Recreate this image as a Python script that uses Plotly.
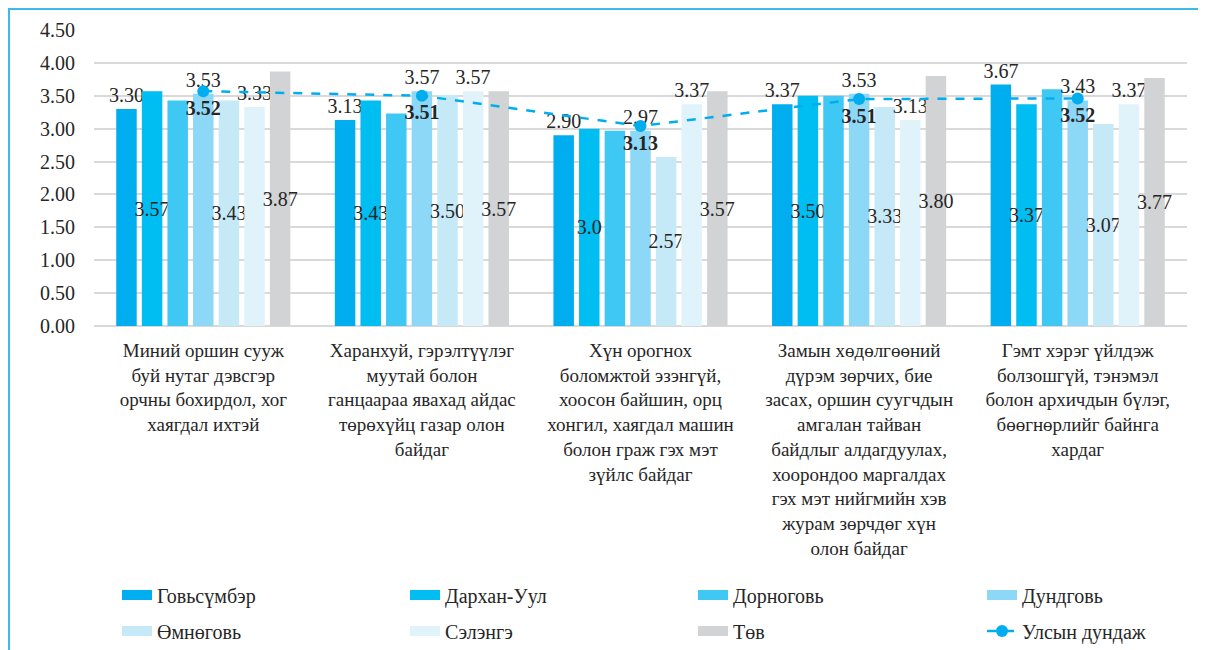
import plotly.graph_objects as go

# ---------------- data ----------------
category_lines = [
    ["Миний оршин сууж", "буй нутаг дэвсгэр", "орчны бохирдол, хог", "хаягдал ихтэй"],
    ["Харанхуй, гэрэлтүүлэг", "муутай болон", "ганцаараа явахад айдас", "төрөхүйц газар олон", "байдаг"],
    ["Хүн орогнох", "боломжтой эзэнгүй,", "хоосон байшин, орц", "хонгил, хаягдал машин", "болон граж гэх мэт", "зүйлс байдаг"],
    ["Замын хөдөлгөөний", "дүрэм зөрчих, бие", "засах, оршин суугчдын", "амгалан тайван", "байдлыг алдагдуулах,",
     "хоорондоо маргалдах", "гэх мэт нийгмийн хэв", "журам зөрчдөг хүн", "олон байдаг"],
    ["Гэмт хэрэг үйлдэж", "болзошгүй, тэнэмэл", "болон архичдын бүлэг,", "бөөгнөрлийг байнга", "хардаг"],
]
categories = ["<br>".join(lines) for lines in category_lines]

series_names = ["Говьсүмбэр", "Дархан-Уул", "Дорноговь", "Дундговь", "Өмнөговь", "Сэлэнгэ", "Төв"]

govisumber = [3.30, 3.13, 2.90, 3.37, 3.67]
darkhan_uul = [3.57, 3.43, 3.00, 3.50, 3.37]
dornogovi = [3.43, 3.23, 2.97, 3.50, 3.60]
dundgovi = [3.53, 3.57, 2.97, 3.53, 3.43]
umnugovi = [3.43, 3.51, 2.57, 3.33, 3.07]
selenge = [3.33, 3.57, 3.37, 3.13, 3.37]
tuv = [3.87, 3.57, 3.57, 3.80, 3.77]

# data labels as printed in the chart (None = no label)
govisumber_lbl = ["3.30", "3.13", "2.90", "3.37", "3.67"]
darkhan_uul_lbl = ["3.57", "3.43", "3.0", "3.50", "3.37"]
dornogovi_lbl = None
dundgovi_lbl = ["3.53", "3.57", "2.97", "3.53", "3.43"]
umnugovi_lbl = ["3.43", "3.50", "2.57", "3.33", "3.07"]
selenge_lbl = ["3.33", "3.57", "3.37", "3.13", "3.37"]
tuv_lbl = ["3.87", "3.57", "3.57", "3.80", "3.77"]

national_avg = [3.57, 3.50, 3.04, 3.45, 3.46]
national_avg_lbl = ["3.52", "3.51", "3.13", "3.51", "3.52"]
national_name = "Улсын дундаж"

y_ticks = [0, 0.5, 1.0, 1.5, 2.0, 2.5, 3.0, 3.5, 4.0, 4.5]
y_tick_labels = ["0.00", "0.50", "1.00", "1.50", "2.00", "2.50", "3.00", "3.50", "4.00", "4.50"]

# ---------------- style ----------------
colors = ["#00AEEF", "#00BDF2", "#40C8F4", "#8DD7F7", "#C6E9F8", "#E0F3FB", "#D1D3D4"]
label_modes = ["outside", "inside", None, "outside", "inside", "outside", "inside"]
FONT = "Liberation Serif"
TXT = "#262626"

values = [govisumber, darkhan_uul, dornogovi, dundgovi, umnugovi, selenge, tuv]
labels = [govisumber_lbl, darkhan_uul_lbl, dornogovi_lbl, dundgovi_lbl, umnugovi_lbl, selenge_lbl, tuv_lbl]

# page has an 8px body margin, so the figure is 8px smaller and offset
OFF = 8
W, H = 1206 - OFF, 650 - OFF
L, R, T, B = 94 - OFF, 1206 - 1187, 30 - OFF, 650 - 326
pw, ph = W - L - R, H - T - B


def page_x(px):
    return (px - OFF - L) / pw


def page_y(py):
    return (H - B - (py - OFF)) / ph


legend_text_x = [157, 445, 733, 1022]
legend_row_y = [595, 631]


def legend_key(k):
    return "legend" if k == 0 else f"legend{k + 1}"


fig = go.Figure()
for i, (name, vals, lbl, col, mode) in enumerate(zip(series_names, values, labels, colors, label_modes)):
    kw = {}
    if lbl is not None:
        kw = dict(text=lbl, textposition=mode, textangle=0, constraintext="none",
                  textfont=dict(family=FONT, size=20, color=TXT),
                  insidetextanchor="middle", cliponaxis=False)
    fig.add_trace(go.Bar(
        x=categories, y=vals, name=name, marker=dict(color=col, line=dict(width=0)),
        legendgroup=name, showlegend=False, hoverinfo="y+name", **kw))
    # legend-only entry drawn as a wide colour key
    fig.add_trace(go.Scatter(
        x=[None], y=[None], mode="lines", name=name, legendgroup=name,
        line=dict(color=col, width=10), legend=legend_key(i), hoverinfo="skip"))

fig.add_trace(go.Scatter(
    x=categories, y=national_avg, name=national_name, mode="lines+markers+text",
    line=dict(color="#00AEEF", width=2.5, dash="dash"),
    marker=dict(color="#00AEEF", size=12),
    text=national_avg_lbl, textposition="bottom center",
    textfont=dict(family=FONT, size=20, color=TXT, weight="bold"),
    legend=legend_key(7), cliponaxis=False))

layout_legends = {}
for k in range(8):
    row, col = divmod(k, 4)
    layout_legends[legend_key(k)] = dict(
        x=page_x(legend_text_x[col] - 40), y=page_y(legend_row_y[row]),
        xanchor="left", yanchor="middle", orientation="h",
        font=dict(family=FONT, size=20, color=TXT), bgcolor="rgba(0,0,0,0)",
        borderwidth=0, itemclick=False, itemdoubleclick=False)

fig.update_layout(
    width=W, height=H,
    margin=dict(l=L, r=R, t=T, b=B, autoexpand=False),
    paper_bgcolor="white", plot_bgcolor="white",
    barmode="group", bargap=0.18, bargroupgap=0.2,
    font=dict(family=FONT, color=TXT),
    showlegend=True,
    xaxis=dict(tickfont=dict(family=FONT, size=19, color=TXT), showgrid=False,
               showline=False, ticks="", ticklabelstandoff=11, fixedrange=True),
    yaxis=dict(range=[0, 4.5], tickvals=y_ticks, ticktext=y_tick_labels,
               tickfont=dict(family=FONT, size=20, color=TXT),
               showgrid=True, gridcolor="#D9D9D9", gridwidth=1.5,
               zeroline=True, zerolinecolor="#D9D9D9", zerolinewidth=1.5,
               showline=False, ticks="", ticklabelstandoff=18, fixedrange=True),
    shapes=[dict(type="rect", xref="paper", yref="paper",
                 x0=page_x(9), x1=page_x(1260),
                 y0=page_y(700), y1=page_y(9),
                 line=dict(color="#3DB8EA", width=2), fillcolor="rgba(0,0,0,0)", layer="below")],
    **layout_legends,
)

fig.write_html("out.html")
